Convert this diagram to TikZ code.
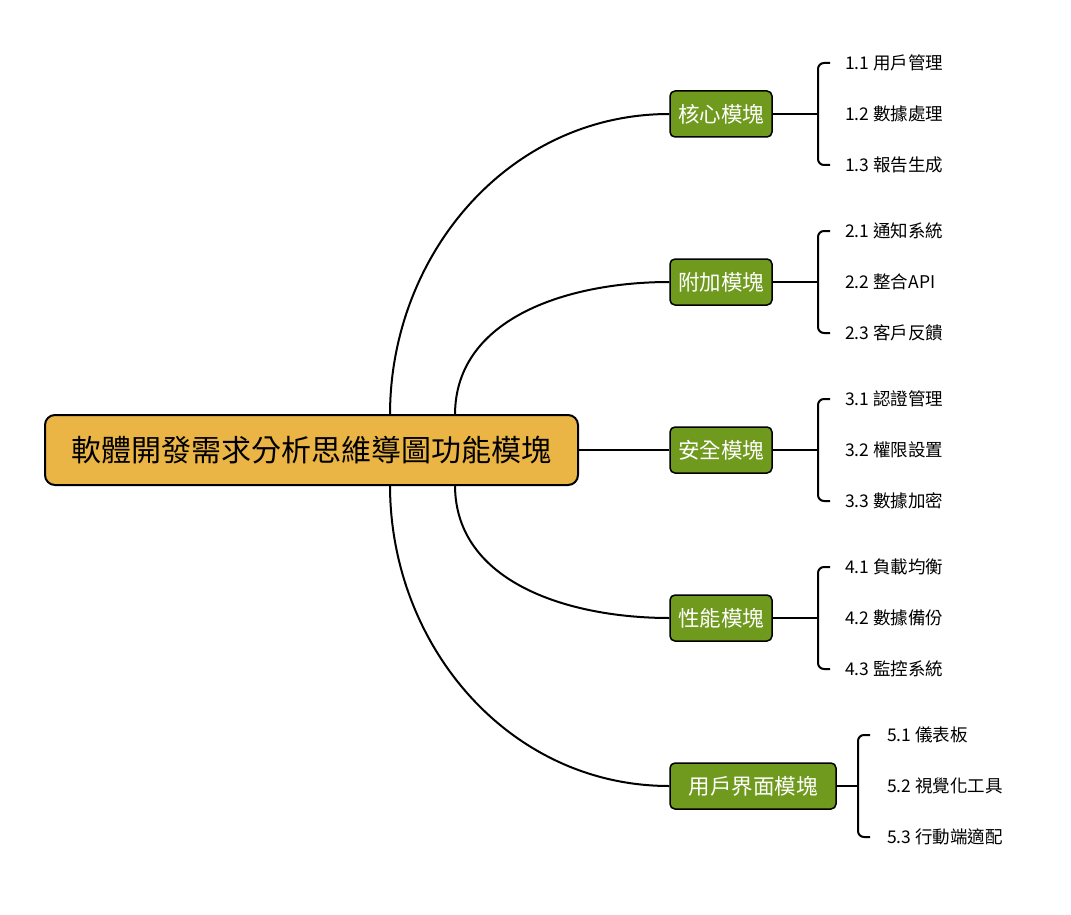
\documentclass[tikz,border=0pt]{standalone}
\usepackage{fontspec}
\setmainfont{Noto Sans CJK TC}
\usetikzlibrary{positioning}
\definecolor{rootfill}{HTML}{EBB546}
\definecolor{modfill}{HTML}{6F9A1D}
\tikzset{
  rootbox/.style={draw=black,line width=2pt,fill=rootfill,rounded corners=10pt,
    minimum width=533pt,minimum height=70pt,font=\fontsize{30}{34}\selectfont},
  modbox/.style={draw=black,line width=1.5pt,fill=modfill,rounded corners=5pt,text=white,
    minimum height=46pt,minimum width=102pt,font=\fontsize{21.5}{24}\selectfont},
  leaf/.style={anchor=west,inner sep=0pt,font=\fontsize{17.5}{20}\selectfont},
  link/.style={line width=2pt},
}
\begin{document}
\begin{tikzpicture}[x=1pt,y=-1pt]
\useasboundingbox (0,0) rectangle (1071,915);
\node[rootbox] (root) at (311.5,450) {軟體開發需求分析思維導圖功能模塊};
% modules
\node[modbox] (m1) at (721,114) {核心模塊};
\node[modbox] (m2) at (721,282) {附加模塊};
\node[modbox] (m3) at (721,450) {安全模塊};
\node[modbox] (m4) at (721,618) {性能模塊};
\node[modbox,minimum width=166pt] (m5) at (753,786) {用戶界面模塊};
% curves from the root
\coordinate (r1) at (390,415);
\coordinate (r2) at (455,415);
\coordinate (r4) at (455,485);
\coordinate (r5) at (390,485);
\draw[link] (r1) to[out=90,in=180] (m1.west);
\draw[link] (r2) to[out=90,in=180] (m2.west);
\draw[link] (root.east) -- (m3.west);
\draw[link] (r4) to[out=-90,in=180] (m4.west);
\draw[link] (r5) to[out=-90,in=180] (m5.west);
% leaves
\foreach \m/\y/\a/\b/\c in {1/114/1.1 用戶管理/1.2 數據處理/1.3 報告生成,
    2/282/2.1 通知系統/2.2 整合API/2.3 客戶反饋,
    3/450/3.1 認證管理/3.2 權限設置/3.3 數據加密,
    4/618/4.1 負載均衡/4.2 數據備份/4.3 監控系統}{
  \node[leaf] (l\m a) at (845,\y-51) {\a};
  \node[leaf] (l\m b) at (845,\y) {\b};
  \node[leaf] (l\m c) at (845,\y+51) {\c};
  \draw[link] (m\m.east) -- (818,\y);
  \draw[link,rounded corners=6pt] (830,\y-51) -- (818,\y-51) -- (818,\y+51) -- (830,\y+51);
}
\node[leaf] (l5a) at (887,735) {5.1 儀表板};
\node[leaf] (l5b) at (887,786) {5.2 視覺化工具};
\node[leaf] (l5c) at (887,837) {5.3 行動端適配};
\draw[link] (m5.east) -- (858,786);
\draw[link,rounded corners=6pt] (870,735) -- (858,735) -- (858,837) -- (870,837);
\end{tikzpicture}
\end{document}
